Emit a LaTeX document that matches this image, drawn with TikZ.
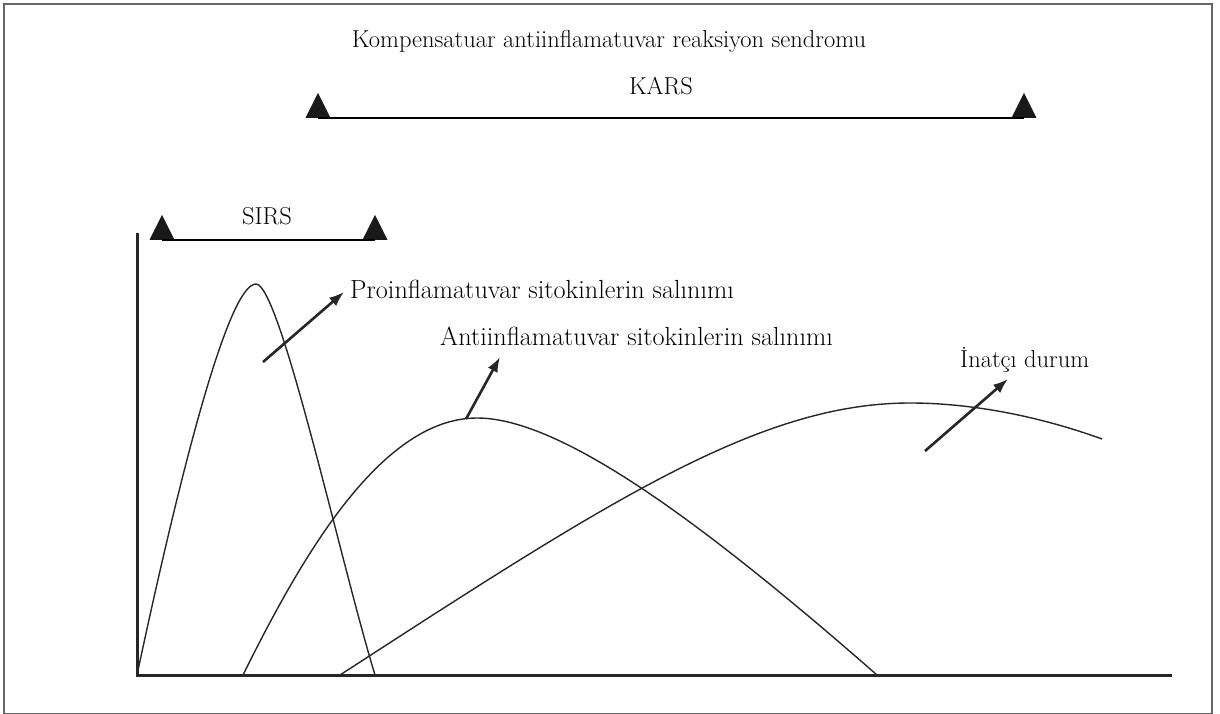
\documentclass[tikz,border=0pt]{standalone}
\usepackage{tikz}
\usetikzlibrary{arrows.meta,shapes.geometric}
\tikzstyle{tri} = [isosceles triangle, isosceles triangle stretches, shape border rotate=90, fill=black!90, inner sep=0pt, minimum width=25pt, minimum height=25pt, anchor=lower side]
\tikzstyle{lbl} = [inner sep=0pt, font=\fontsize{24.5}{28}\selectfont]
\tikzstyle{biglbl} = [inner sep=0pt, font=\fontsize{26.2}{30}\selectfont]
\tikzstyle{curve} = [line width=1.4pt, black!85]
\tikzstyle{pointer} = [line width=2.6pt, black!85, -{Latex[length=15pt,width=11pt]}]

\begin{document}
\begin{tikzpicture}[x=1pt,y=-1pt]
\useasboundingbox (0,0) rectangle (1220,714);
\draw[line width=2pt, black!60] (4,4) rectangle (1212,714);

% time ranges
\node[lbl, anchor=base] (title) at (609,48) {Kompensatuar antiinflamatuvar reaksiyon sendromu};
\node[lbl, anchor=base] (kars) at (661,95) {KARS};
\node[tri] (karsL) at (318,118) {};
\node[tri] (karsR) at (1024,118) {};
\draw[line width=1.6pt] (karsL.lower side) -- (karsR.lower side);

\node[lbl, anchor=base] (sirs) at (267,224) {SIRS};
\node[tri] (sirsL) at (162,240) {};
\node[tri] (sirsR) at (375,240) {};
\draw[line width=1.6pt] (sirsL.lower side) -- (sirsR.lower side);

% axes
\coordinate (o) at (137,675);
\coordinate (ytop) at (137,233);
\coordinate (xend) at (1172,675);
\draw[line width=3pt, black!85] (ytop) -- (o) -- (xend);

% curves
\coordinate (proTop) at (256,284);
\coordinate (antiTop) at (477,418);
\coordinate (inatTop) at (910,403);
\draw[curve] (o) .. controls (185,450) and (230,284) .. (proTop)
  .. controls (280,284) and (340,560) .. (375,675);
\draw[curve] (243,675) .. controls (300,560) and (380,418) .. (antiTop)
  .. controls (560,418) and (700,520) .. (877,675);
\draw[curve] (340,675) .. controls (610,500) and (760,403) .. (inatTop)
  .. controls (980,403) and (1050,420) .. (1102,439);

% labels and pointers
\node[biglbl, anchor=base west] (pro) at (350,298) {Proinflamatuvar sitokinlerin salınımı};
\node[biglbl, anchor=base west] (anti) at (440,345) {Antiinflamatuvar sitokinlerin salınımı};
\node[lbl, anchor=base west] (inat) at (960,367) {İnatçı durum};

\coordinate (p1) at (263,362);
\coordinate (p2) at (344,292);
\coordinate (a1) at (466,419);
\coordinate (a2) at (500,357);
\coordinate (i1) at (925,451);
\coordinate (i2) at (1008,379);
\draw[pointer] (p1) -- (p2);
\draw[pointer] (a1) -- (a2);
\draw[pointer] (i1) -- (i2);
\end{tikzpicture}
\end{document}
